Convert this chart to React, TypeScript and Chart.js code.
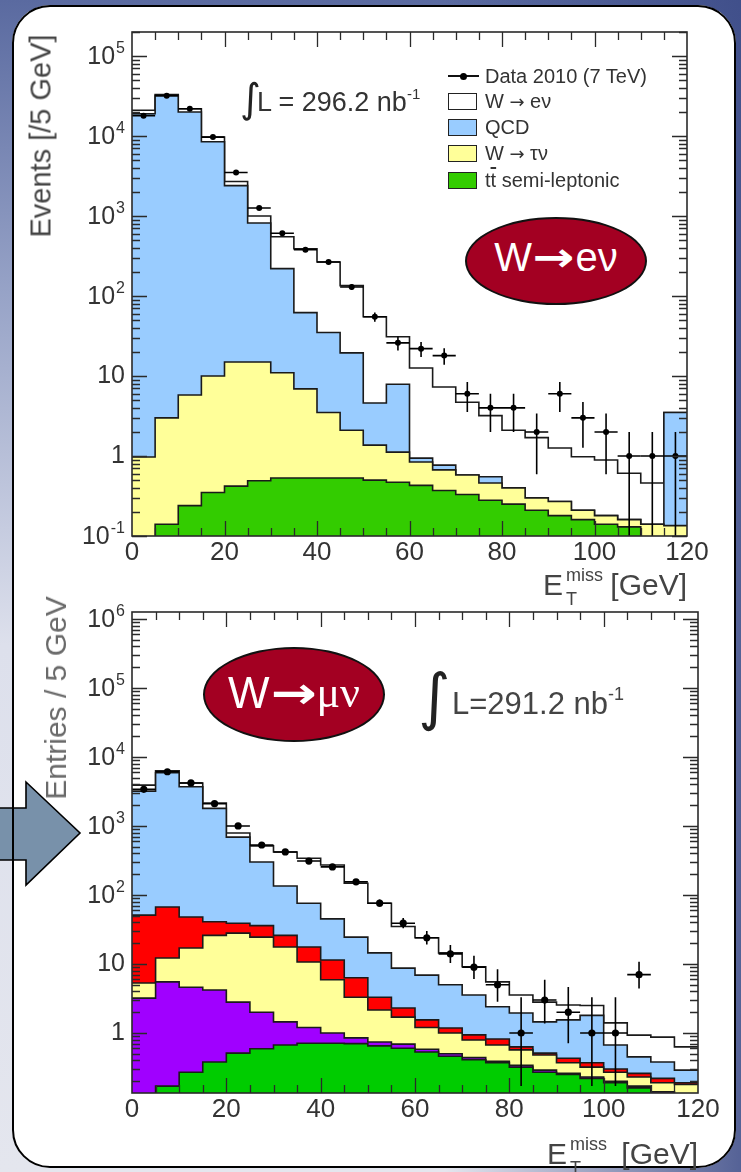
import React, { useEffect, useRef } from "react";
import { Chart, registerables } from "chart.js";

Chart.register(...registerables);

const FONT = '"Liberation Sans", Arial, Helvetica, sans-serif';

// ---------- common binning (5 GeV bins, 0-120 GeV) ----------
const BIN_WIDTH = 5;
const X_MIN = 0;
const X_MAX = 120;
const binLow = [0, 5, 10, 15, 20, 25, 30, 35, 40, 45, 50, 55, 60, 65, 70, 75, 80, 85, 90, 95, 100, 105, 110, 115];
const xTickLabels = [0, 20, 40, 60, 80, 100, 120];

// ---------- W -> e nu panel (stacked heights as drawn) ----------
const eYMin = 0.1;
const eYMax = 2e5;
const eYExponents = [-1, 0, 1, 2, 3, 4, 5];
const eTtbar = [0, 0.14, 0.24, 0.35, 0.42, 0.49, 0.53, 0.53, 0.53, 0.53, 0.5, 0.47, 0.43, 0.37, 0.33, 0.28, 0.25, 0.21, 0.18, 0.16, 0.14, 0.13, 0, 0];
const eWtaunu = [0.97, 3.0, 5.8, 10, 15, 15, 11, 6.9, 3.5, 2.1, 1.37, 1.12, 0.84, 0.67, 0.58, 0.46, 0.4, 0.3, 0.27, 0.21, 0.18, 0.16, 0.14, 0.135];
const eQcd = [19000, 32000, 20000, 8500, 2400, 820, 220, 62, 35, 19.5, 4.6, 7.9, 0.94, 0.77, 0.58, 0.55, 0.4, 0.3, 0.27, 0.21, 0.18, 0.16, 0.14, 3.5];
const eWenu = [21000, 33000, 22000, 9700, 2700, 1000, 550, 390, 266, 135, 55, 31, 12.6, 7.3, 4.7, 3.2, 2.1, 1.7, 1.26, 0.98, 0.89, 0.61, 0.46, 3.5];
const eData = [18000, 32000, 22000, 9700, 3500, 1260, 610, 380, 266, 130, 55, 26, 22, 18, 6, 4, 4, 2, 6, 3, 2, 1, 1, 1];
const eDataErr = [134, 179, 148, 98, 59, 35, 25, 19.5, 16.3, 11.4, 7.4, 5.1, 4.7, 4.2, 2.45, 2, 2, 1.41, 2.45, 1.73, 1.41, 1, 1, 1];

// ---------- W -> mu nu panel (stacked heights as drawn) ----------
const muYMin = 0.135;
const muYMax = 1.26e6;
const muYExponents = [0, 1, 2, 3, 4, 5, 6];
const muTtbar = [0, 0.17, 0.27, 0.38, 0.51, 0.59, 0.67, 0.71, 0.71, 0.7, 0.65, 0.6, 0.53, 0.46, 0.41, 0.37, 0.32, 0.27, 0.25, 0.22, 0.19, 0.16, 0, 0];
const muZtautau = [3.2, 5.5, 4.6, 4.2, 2.8, 2.0, 1.45, 1.2, 1.0, 0.85, 0.74, 0.69, 0.58, 0.5, 0.44, 0.39, 0.34, 0.29, 0.26, 0.23, 0.2, 0.17, 0.14, 0.1];
const muWtaunu = [5.3, 12.2, 17, 26, 28, 24.5, 17.6, 10.7, 5.9, 3.3, 2.15, 1.7, 1.2, 1.0, 0.79, 0.67, 0.57, 0.48, 0.37, 0.32, 0.27, 0.23, 0.19, 0.18];
const muZmumu = [51, 67, 48, 41, 39, 36, 26, 17.6, 11.4, 6.3, 3.3, 2.3, 1.55, 1.18, 0.94, 0.82, 0.63, 0.51, 0.43, 0.37, 0.3, 0.26, 0.22, 0.19];
const muQcd = [3200, 5900, 3700, 1800, 690, 300, 135, 76, 45, 24.5, 14.5, 8.7, 6.9, 5.0, 3.55, 2.4, 1.95, 1.45, 1.55, 1.8, 0.67, 0.45, 0.38, 0.29];
const muWmunu = [3900, 6300, 4200, 2150, 790, 515, 420, 340, 272, 148, 76, 35, 24, 14.5, 9.1, 5.5, 3.55, 2.8, 2.55, 2.5, 1.4, 0.93, 0.87, 0.63];
const muData = [3400, 6100, 4200, 2100, 1000, 530, 420, 310, 255, 155, 76, 39, 24, 14, 9, 5, 1, 3, 2, 1, 1, 7, null, null];
const muErrDown = [58, 78, 65, 46, 32, 23, 20.5, 17.6, 16, 12.4, 8.7, 6.2, 4.86, 3.7, 2.94, 2.16, 0.83, 1.63, 1.29, 0.83, 0.83, 2.58, null, null];
const muErrUp = [59, 79, 66, 47, 33, 24, 21.5, 18.6, 17, 13.4, 9.7, 7.3, 5.96, 4.83, 4.11, 3.38, 2.3, 2.92, 2.64, 2.3, 2.3, 3.77, null, null];

const FLOOR = 1e-4;

type Layer = { values: number[]; color: string };
type PanelCfg = {
  canvasTop: number;
  canvasHeight: number;
  padding: { left: number; top: number; right: number; bottom: number };
  yMin: number;
  yMax: number;
  exps: number[];
  layers: Layer[]; // bottom-most first
  data: (number | null)[];
  errDown: (number | null)[];
  errUp: (number | null)[];
  markerRadius: number;
};

function stepPoints(vals: number[]) {
  const pts = vals.map((v, i) => ({ x: binLow[i], y: v > 0 ? v : FLOOR }));
  pts.push({ x: X_MAX, y: pts[pts.length - 1].y });
  return pts;
}

function errorBarPlugin(cfg: PanelCfg) {
  return {
    id: "errBars",
    afterDatasetsDraw(chart: any) {
      const { ctx, chartArea: a } = chart;
      const xs = chart.scales.x;
      const ys = chart.scales.y;
      ctx.save();
      ctx.beginPath();
      ctx.rect(a.left, a.top, a.right - a.left, a.bottom - a.top);
      ctx.clip();
      ctx.strokeStyle = "#000";
      ctx.lineWidth = 1.6;
      cfg.data.forEach((v, i) => {
        if (v == null) return;
        const cx = xs.getPixelForValue(binLow[i] + BIN_WIDTH / 2);
        const cy = ys.getPixelForValue(v);
        const lo = v - (cfg.errDown[i] as number);
        const yLo = lo > 0 ? ys.getPixelForValue(lo) : a.bottom + 2;
        const yHi = ys.getPixelForValue(v + (cfg.errUp[i] as number));
        ctx.beginPath();
        ctx.moveTo(cx, yHi);
        ctx.lineTo(cx, yLo);
        ctx.moveTo(xs.getPixelForValue(binLow[i]), cy);
        ctx.lineTo(xs.getPixelForValue(binLow[i] + BIN_WIDTH), cy);
        ctx.stroke();
      });
      ctx.restore();
    },
  };
}

function rootAxesPlugin(cfg: PanelCfg) {
  return {
    id: "rootAxes",
    afterDraw(chart: any) {
      const { ctx, chartArea: a } = chart;
      const xs = chart.scales.x;
      const ys = chart.scales.y;
      ctx.save();
      ctx.strokeStyle = "#2a2a2a";
      ctx.lineWidth = 1.3;
      ctx.beginPath();
      for (let v = X_MIN + BIN_WIDTH; v < X_MAX; v += BIN_WIDTH) {
        const px = Math.round(xs.getPixelForValue(v)) + 0.5;
        const len = v % 20 === 0 ? 15 : 8;
        ctx.moveTo(px, a.bottom);
        ctx.lineTo(px, a.bottom - len);
        ctx.moveTo(px, a.top);
        ctx.lineTo(px, a.top + len);
      }
      const lo = Math.floor(Math.log10(cfg.yMin));
      const hi = Math.ceil(Math.log10(cfg.yMax));
      for (let d = lo; d <= hi; d++) {
        for (let m = 1; m <= 9; m++) {
          const v = m * Math.pow(10, d);
          if (v < cfg.yMin * 0.999 || v > cfg.yMax) continue;
          const py = Math.round(ys.getPixelForValue(v)) + 0.5;
          const len = m === 1 ? 15 : 8;
          ctx.moveTo(a.left, py);
          ctx.lineTo(a.left + len, py);
          ctx.moveTo(a.right, py);
          ctx.lineTo(a.right - len, py);
        }
      }
      ctx.stroke();
      ctx.lineWidth = 1.6;
      ctx.strokeRect(a.left, a.top, a.right - a.left, a.bottom - a.top);

      // labels
      ctx.fillStyle = "#333";
      ctx.textBaseline = "middle";
      ctx.textAlign = "center";
      ctx.font = `26px ${FONT}`;
      xTickLabels.forEach((v) => {
        ctx.fillText(String(v), xs.getPixelForValue(v), a.bottom + 17);
      });
      const right = a.left - 7;
      ctx.textAlign = "right";
      cfg.exps.forEach((e) => {
        const py = ys.getPixelForValue(Math.pow(10, e));
        if (e === 0 || e === 1) {
          ctx.font = `25px ${FONT}`;
          ctx.fillText(e === 0 ? "1" : "10", right, py);
        } else {
          const sup = String(e);
          ctx.font = `16px ${FONT}`;
          const sw = ctx.measureText(sup).width;
          ctx.fillText(sup, right, py - 7);
          ctx.font = `25px ${FONT}`;
          ctx.fillText("10", right - sw - 1, py + 1);
        }
      });
      ctx.restore();
    },
  };
}

function HistPanel({ cfg }: { cfg: PanelCfg }) {
  const ref = useRef<HTMLCanvasElement>(null);
  useEffect(() => {
    const datasets: any[] = [
      {
        type: "scatter",
        data: cfg.data
          .map((v, i) => (v == null ? null : { x: binLow[i] + BIN_WIDTH / 2, y: v }))
          .filter((p) => p !== null),
        pointRadius: cfg.markerRadius,
        pointBackgroundColor: "#000",
        pointBorderColor: "#000",
        pointBorderWidth: 0,
        showLine: false,
        order: 0,
      },
      ...cfg.layers.map((l, i) => ({
        type: "line",
        data: stepPoints(l.values),
        stepped: true,
        fill: "start",
        backgroundColor: l.color,
        borderColor: "#1a1a1a",
        borderWidth: 1.6,
        pointRadius: 0,
        order: i + 1,
      })),
    ];
    const chart = new Chart(ref.current as HTMLCanvasElement, {
      type: "line",
      data: { datasets },
      options: {
        responsive: false,
        maintainAspectRatio: false,
        animation: false,
        devicePixelRatio: 1,
        events: [],
        layout: { padding: cfg.padding },
        plugins: {
          legend: { display: false },
          tooltip: { enabled: false },
          title: { display: false },
        },
        scales: {
          x: { type: "linear", min: X_MIN, max: X_MAX, display: false },
          y: { type: "logarithmic", min: cfg.yMin, max: cfg.yMax, display: false },
        },
      },
      plugins: [errorBarPlugin(cfg), rootAxesPlugin(cfg)],
    } as any);
    return () => chart.destroy();
  }, []);
  return (
    <canvas
      ref={ref}
      width={741}
      height={cfg.canvasHeight}
      style={{ position: "absolute", left: 0, top: cfg.canvasTop, width: 741, height: cfg.canvasHeight }}
    />
  );
}

const topCfg: PanelCfg = {
  canvasTop: 0,
  canvasHeight: 600,
  padding: { left: 132, top: 32, right: 54, bottom: 64 },
  yMin: eYMin,
  yMax: eYMax,
  exps: eYExponents,
  layers: [
    { values: eTtbar, color: "#33cc00" },
    { values: eWtaunu, color: "#ffff99" },
    { values: eQcd, color: "#99ccff" },
    { values: eWenu, color: "#ffffff" },
  ],
  data: eData,
  errDown: eDataErr,
  errUp: eDataErr,
  markerRadius: 3,
};

const bottomCfg: PanelCfg = {
  canvasTop: 600,
  canvasHeight: 572,
  padding: { left: 132, top: 12, right: 43, bottom: 79 },
  yMin: muYMin,
  yMax: muYMax,
  exps: muYExponents,
  layers: [
    { values: muTtbar, color: "#00cc00" },
    { values: muZtautau, color: "#a000ff" },
    { values: muWtaunu, color: "#ffff99" },
    { values: muZmumu, color: "#ff0000" },
    { values: muQcd, color: "#99ccff" },
    { values: muWmunu, color: "#ffffff" },
  ],
  data: muData,
  errDown: muErrDown,
  errUp: muErrUp,
  markerRadius: 3.6,
};

const ARROW = "\u2192";
const legendRows = [
  { kind: "data", color: "", pre: "Data 2010 (7 TeV)", post: "" },
  { kind: "box", color: "#ffffff", pre: "W ", post: " e\u03bd" },
  { kind: "box", color: "#99ccff", pre: "QCD", post: "" },
  { kind: "box", color: "#ffff99", pre: "W ", post: " \u03c4\u03bd" },
  { kind: "box", color: "#33cc00", pre: "", post: "" },
];
const legendY = [76, 101, 127, 153, 180];

const abs = (s: React.CSSProperties): React.CSSProperties => ({
  position: "absolute",
  whiteSpace: "nowrap",
  lineHeight: 1,
  fontFamily: FONT,
  ...s,
});

function XTitle({ eLeft, capTop, rightPx }: { eLeft: number; capTop: number; rightPx: number }) {
  return (
    <>
      <div style={abs({ left: eLeft, top: capTop - 4, fontSize: 30, color: "#444" })}>E</div>
      <div style={abs({ left: eLeft + 23, top: capTop - 8, fontSize: 18, color: "#444" })}>miss</div>
      <div style={abs({ left: eLeft + 23, top: capTop + 16, fontSize: 18, color: "#444" })}>T</div>
      <div style={abs({ right: 741 - rightPx, top: capTop - 4, fontSize: 30, color: "#444" })}>[GeV]</div>
    </>
  );
}

function BigArrow() {
  return (
    <span
      style={{
        fontFamily: '"DejaVu Sans", sans-serif',
        fontWeight: "bold",
        display: "inline-block",
        transform: "scaleX(1.25)",
        margin: "0 5px",
      }}
    >
      {ARROW}
    </span>
  );
}

export default function App() {
  return (
    <div
      style={{
        position: "absolute",
        left: 0,
        top: 0,
        width: 741,
        height: 1172,
        overflow: "hidden",
        background:
          "linear-gradient(90deg, rgba(60,75,135,0) 60%, rgba(60,75,135,0.85) 100%), linear-gradient(180deg, #5a6aa0 0%, #97a3c7 25%, #dde0ec 55%, #e4e6ee 100%)",
      }}
    >
      {/* white slide panel */}
      <div style={{ position: "absolute", left: 12, top: 5, width: 724, height: 1163, borderRadius: 38, background: "#fff" }} />
      {/* blue arrow */}
      <svg width={741} height={1172} style={{ position: "absolute", left: 0, top: 0 }}>
        <polygon
          points="-6,808 26,808 26,782 80,833 26,885 26,860 -6,860"
          fill="#7891aa"
          stroke="#000"
          strokeWidth={1.6}
        />
      </svg>
      {/* panel border */}
      <div
        style={{
          position: "absolute",
          left: 12,
          top: 5,
          width: 724,
          height: 1163,
          borderRadius: 38,
          border: "2.5px solid #000",
          boxSizing: "border-box",
        }}
      />

      <HistPanel cfg={topCfg} />
      <HistPanel cfg={bottomCfg} />

      {/* top panel texts */}
      <div
        style={abs({
          left: 41,
          top: 136,
          fontSize: 29,
          color: "#444",
          transform: "translate(-50%, -50%) rotate(-90deg)",
        })}
      >
        Events [/5 GeV]
      </div>
      <div style={abs({ left: 240, top: 78, fontSize: 40, fontFamily: '"DejaVu Sans"', color: "#222" })}>{"\u222b"}</div>
      <div style={abs({ left: 257, top: 89, fontSize: 27, color: "#333" })}>
        L = 296.2 nb<span style={{ fontSize: 15, position: "relative", top: -12 }}>-1</span>
      </div>
      {legendRows.map((r, i) => (
        <React.Fragment key={i}>
          {r.kind === "data" ? (
            <>
              <div style={{ position: "absolute", left: 448, top: legendY[i] - 1, width: 31, height: 2, background: "#111" }} />
              <div
                style={{
                  position: "absolute",
                  left: 460,
                  top: legendY[i] - 3.5,
                  width: 7,
                  height: 7,
                  borderRadius: "50%",
                  background: "#000",
                }}
              />
            </>
          ) : (
            <div
              style={{
                position: "absolute",
                left: 448,
                top: legendY[i] - 8,
                width: 29,
                height: 17,
                background: r.color,
                border: "1.5px solid #222",
                boxSizing: "border-box",
              }}
            />
          )}
          <div style={abs({ left: 485, top: legendY[i] - 10, fontSize: 20, color: "#333" })}>
            {i === 4 ? (
              <>
                t<span style={{ textDecoration: "overline" }}>t</span> semi-leptonic
              </>
            ) : r.post ? (
              <>
                {r.pre}
                <span style={{ fontFamily: '"DejaVu Sans", sans-serif', fontSize: 18 }}>{ARROW}</span>
                {r.post}
              </>
            ) : (
              r.pre
            )}
          </div>
        </React.Fragment>
      ))}
      <XTitle eLeft={543} capTop={574} rightPx={687} />
      <div
        style={{
          position: "absolute",
          left: 465,
          top: 217,
          width: 182,
          height: 88,
          borderRadius: "50%",
          background: "#a30022",
          border: "2px solid #111",
          boxSizing: "border-box",
          display: "flex",
          alignItems: "center",
          justifyContent: "center",
          color: "#fff",
          fontFamily: FONT,
          fontSize: 40,
          lineHeight: 1,
          paddingBottom: 8,
        }}
      >
        W<BigArrow />e{"\u03bd"}
      </div>

      {/* bottom panel texts */}
      <div
        style={abs({
          left: 56,
          top: 698,
          fontSize: 30,
          color: "#6a6a6a",
          transform: "translate(-50%, -50%) rotate(-90deg)",
        })}
      >
        Entries / 5 GeV
      </div>
      <div style={abs({ left: 418, top: 666, fontSize: 62, fontFamily: '"DejaVu Sans"', color: "#222" })}>{"\u222b"}</div>
      <div style={abs({ left: 452, top: 688, fontSize: 31, color: "#444" })}>
        L=291.2 nb<span style={{ fontSize: 18, position: "relative", top: -14 }}>-1</span>
      </div>
      <XTitle eLeft={547} capTop={1143} rightPx={698} />
      <div
        style={{
          position: "absolute",
          left: 203,
          top: 647,
          width: 182,
          height: 95,
          borderRadius: "50%",
          background: "#a30022",
          border: "2px solid #111",
          boxSizing: "border-box",
          display: "flex",
          alignItems: "center",
          justifyContent: "center",
          color: "#fff",
          fontFamily: FONT,
          fontSize: 44,
          lineHeight: 1,
          paddingBottom: 4,
        }}
      >
        W<BigArrow />
        <span style={{ fontFamily: '"Liberation Serif", serif' }}>{"\u03bc\u03bd"}</span>
      </div>
    </div>
  );
}
